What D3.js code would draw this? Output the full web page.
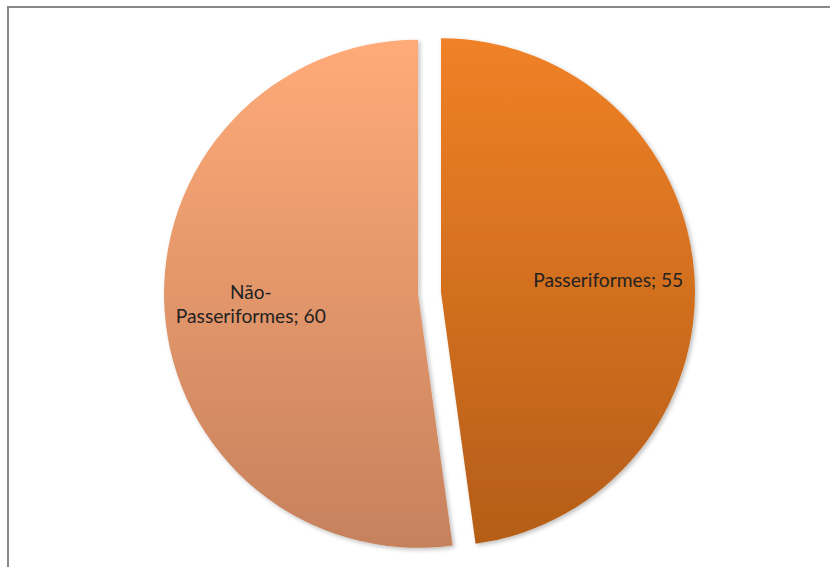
<!DOCTYPE html>
<meta charset="utf-8">
<style>
    body { margin: 0; background: #fff; }
    svg { display: block; }
</style>
<body>
<div class="container"></div>
<script src="https://cdn.jsdelivr.net/npm/d3@7"></script>
<script>

// data
const categories = ['Passeriformes', 'Não-Passeriformes'];
const values = [55, 60];
const labelLines = [['Passeriformes; 55'], ['Não-', 'Passeriformes; 60']];
const topColors = ['#f08126', '#ffab78'];
const bottomColors = ['#b45d18', '#c6815d'];

const width = 830;
const height = 567;
const cx = 429.5, cy = 293;
const r = 254;
const explode = 11.5;

const svg = d3.select('.container')
    .append('svg')
    .attr('width', width)
    .attr('height', height);

const defs = svg.append('defs');

const shadow = defs.append('filter').attr('id', 'shadow')
    .attr('x', '-10%').attr('y', '-10%').attr('width', '120%').attr('height', '120%');
shadow.append('feDropShadow')
    .attr('dx', 2).attr('dy', 2).attr('stdDeviation', 2)
    .attr('flood-color', '#000').attr('flood-opacity', 0.25);

categories.forEach((c, i) => {
    const g = defs.append('linearGradient')
        .attr('id', 'grad' + i)
        .attr('gradientUnits', 'userSpaceOnUse')
        .attr('x1', 0).attr('x2', 0)
        .attr('y1', cy - r).attr('y2', cy + r);
    g.append('stop').attr('offset', '0%').attr('stop-color', topColors[i]);
    g.append('stop').attr('offset', '100%').attr('stop-color', bottomColors[i]);
});

// chart area border (only top and left visible)
svg.append('path')
    .attr('d', `M8,${height + 10} L8,7 L${width + 10},7`)
    .attr('fill', 'none')
    .attr('stroke', '#888')
    .attr('stroke-width', 2);

const pie = d3.pie().sort(null).value(d => d);
const arcs = pie(values);
const arc = d3.arc().innerRadius(0).outerRadius(r);

const slices = svg.selectAll('g.slice')
    .data(arcs)
    .enter()
    .append('g')
    .attr('class', 'slice')
    .attr('transform', d => {
        const a = (d.startAngle + d.endAngle) / 2;
        const x = cx + Math.sin(a) * explode;
        const y = cy - Math.cos(a) * explode;
        return `translate(${x},${y})`;
    });

slices.append('path')
    .attr('d', arc)
    .attr('fill', (d, i) => `url(#grad${i})`)
    .attr('transform', `translate(0,0)`)
    .attr('filter', 'url(#shadow)');

// gradient is in user space, so shift it back relative to each group
slices.select('path')
    .attr('fill', (d, i) => {
        const a = (d.startAngle + d.endAngle) / 2;
        const y = cy - Math.cos(a) * explode;
        defs.select('#grad' + i).attr('y1', cy - r - y).attr('y2', cy + r - y);
        return `url(#grad${i})`;
    });

const lineH = 24;
slices.append('text')
    .attr('font-family', 'Lato, "Open Sans", sans-serif')
    .attr('font-size', 19)
    .attr('fill', '#222')
    .attr('text-anchor', 'middle')
    .each(function(d, i) {
        const a = (d.startAngle + d.endAngle) / 2;
        const lr = r * 0.66;
        const x = Math.sin(a) * lr;
        const y = -Math.cos(a) * lr;
        const lines = labelLines[i];
        const y0 = y - (lines.length - 1) * lineH / 2 + 6;
        lines.forEach((t, k) => {
            const ts = d3.select(this).append('tspan')
                .attr('x', x)
                .attr('y', y0 + k * lineH)
                .text(t);
            if (t.length > 10) ts.attr('textLength', 150).attr('lengthAdjust', 'spacingAndGlyphs');
        });
    });

</script>
</body>
